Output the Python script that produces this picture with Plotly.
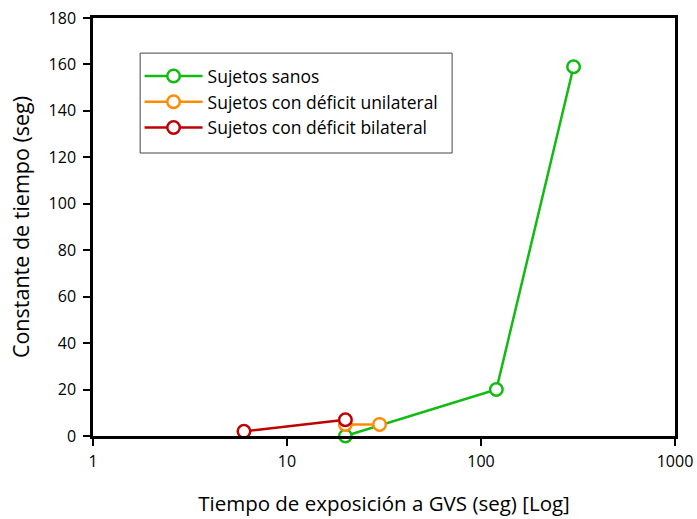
import plotly.graph_objects as go

# Exposure time (s) vs. time constant (s) for each group
sanos_x = [20, 120, 300]
sanos_y = [0, 20, 159]
unilateral_x = [20, 30]
unilateral_y = [5, 5]
bilateral_x = [6, 20]
bilateral_y = [2, 7]

x_ticks = [1, 10, 100, 1000]
y_ticks = [0, 20, 40, 60, 80, 100, 120, 140, 160, 180]

series = [
    ("Sujetos sanos", sanos_x, sanos_y, "#11bb11"),
    ("Sujetos con déficit unilateral", unilateral_x, unilateral_y, "#ff8c00"),
    ("Sujetos con déficit bilateral", bilateral_x, bilateral_y, "#c00000"),
]

fig = go.Figure()
for name, xs, ys, color in series:
    fig.add_trace(go.Scatter(
        x=xs, y=ys, name=name, mode="lines+markers",
        line=dict(color=color, width=2.5),
        marker=dict(symbol="circle", size=12.5, color="white",
                    line=dict(color=color, width=2.5)),
        cliponaxis=False,
    ))

# framed box behind the legend entries
fig.add_shape(
    type="rect", xref="x domain", yref="y domain",
    x0=0.081, x1=0.617, y0=0.677, y1=0.916,
    line=dict(color="#444444", width=1), fillcolor="white", layer="below",
)

font = "Open Sans, Liberation Sans, sans-serif"
fig.update_layout(
    width=697, height=519,
    margin=dict(l=93, r=22, t=18, b=83),
    plot_bgcolor="white", paper_bgcolor="white",
    font=dict(family=font, size=16, color="black"),
    showlegend=True,
    legend=dict(
        x=0.08, y=0.904, xanchor="left", yanchor="top",
        borderwidth=0, bgcolor="rgba(0,0,0,0)",
        font=dict(size=17.5), itemwidth=58, tracegroupgap=0,
        entrywidth=250,
    ),
    xaxis=dict(
        type="log", range=[0, 3], automargin=False,
        tickvals=x_ticks, ticktext=[str(v) for v in x_ticks],
        ticks="outside", ticklen=7, tickwidth=2, tickcolor="black",
        ticklabelstandoff=2,
        showline=True, linecolor="black", linewidth=2.5, mirror=True,
        showgrid=False, zeroline=False,
        title=dict(text="Tiempo de exposición a GVS (seg) [Log]",
                   font=dict(size=20.5), standoff=26),
    ),
    yaxis=dict(
        range=[0, 180], tickvals=y_ticks, automargin=False,
        ticks="outside", ticklen=7, tickwidth=2, tickcolor="black",
        ticklabelstandoff=4,
        showline=True, linecolor="black", linewidth=2.5, mirror=True,
        showgrid=False, zeroline=False,
        title=dict(text="Constante de tiempo (seg)",
                   font=dict(size=21.5), standoff=14),
    ),
)

fig.write_html("out.html")
